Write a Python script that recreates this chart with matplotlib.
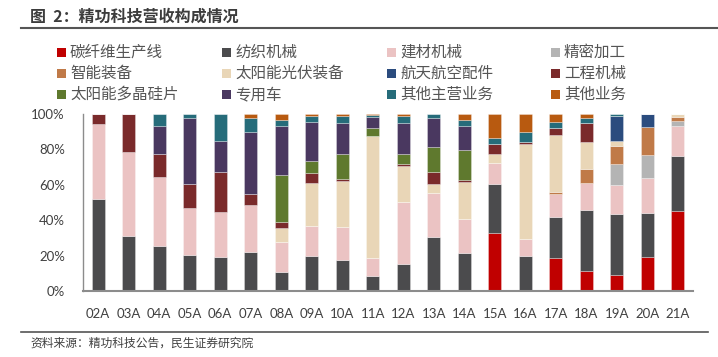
import matplotlib
matplotlib.use("Agg")
import matplotlib.pyplot as plt
import numpy as np
from matplotlib.patches import Rectangle
from matplotlib.lines import Line2D

plt.rcParams['font.family'] = ['Noto Sans CJK SC', 'DejaVu Sans']

years = ["02A", "03A", "04A", "05A", "06A", "07A", "08A", "09A", "10A", "11A",
         "12A", "13A", "14A", "15A", "16A", "17A", "18A", "19A", "20A", "21A"]

series_names = ["碳纤维生产线", "纺织机械", "建材机械", "精密加工",
                "智能装备", "太阳能光伏装备", "航天航空配件", "工程机械",
                "太阳能多晶硅片", "专用车", "其他主营业务", "其他业务"]

carbon_fiber = [0, 0, 0, 0, 0, 0, 0, 0, 0, 0, 0, 0, 0, 32.7, 0.8, 18.4, 11.2, 8.8, 19.2, 45.0]
textile      = [52.2, 31.0, 25.2, 20.3, 19.4, 22.0, 10.9, 19.7, 17.7, 8.2, 15.2, 30.5, 21.2, 27.5, 18.7, 23.6, 34.8, 34.7, 24.9, 31.4]
building     = [42.0, 47.6, 39.3, 26.8, 25.3, 26.8, 16.6, 17.2, 18.4, 10.2, 34.9, 24.6, 19.7, 12.2, 10.1, 12.7, 14.9, 16.3, 19.5, 17.0]
precision    = [0, 0, 0, 0, 0, 0, 0, 0, 0, 0, 0, 0, 0, 0, 0, 0, 0, 11.9, 13.2, 2.6]
smart_equip  = [0, 0, 0, 0, 0, 0, 0, 0, 0, 0, 0, 0, 0, 0, 0, 1.3, 8.1, 10.3, 15.6, 2.3]
solar_pv     = [0, 0, 0, 0, 0, 0, 8.3, 24.0, 25.9, 69.1, 20.6, 5.4, 20.7, 4.8, 53.2, 32.1, 15.0, 2.9, 0, 1.7]
aerospace    = [0, 0, 0, 0, 0, 0, 0, 0, 0, 0, 0, 0, 0, 0, 0, 0, 0, 14.0, 7.6, 0]
engineering  = [5.8, 21.4, 12.7, 13.4, 22.6, 6.1, 3.2, 5.9, 1.2, 0, 1.1, 6.8, 1.0, 6.0, 1.3, 4.1, 11.1, 0, 0, 0]
polysilicon  = [0, 0, 0, 0, 0, 0, 26.4, 6.6, 14.3, 4.7, 5.4, 13.8, 16.8, 0, 0, 0, 0, 0, 0, 0]
special_veh  = [0, 0, 16.2, 37.1, 17.6, 34.7, 28.0, 21.9, 17.2, 6.3, 17.5, 16.5, 14.0, 0, 0, 0, 0, 0, 0, 0]
other_main   = [0, 0, 6.6, 2.4, 15.1, 8.3, 3.4, 3.4, 4.3, 1.1, 4.0, 2.4, 3.2, 3.0, 5.9, 3.4, 2.8, 1.1, 0, 0]
other_biz    = [0, 0, 0, 0, 0, 2.1, 3.2, 1.3, 1.0, 0.4, 1.3, 0, 3.4, 13.8, 10.0, 4.4, 2.1, 0, 0, 0]

series_values = [carbon_fiber, textile, building, precision, smart_equip, solar_pv,
                 aerospace, engineering, polysilicon, special_veh, other_main, other_biz]

colors = ["#C00000", "#4B4B4D", "#EBC3C3", "#B4B4B4", "#C07A48", "#E9D6B7",
          "#2B4C7E", "#7A2A2B", "#5F792E", "#4A3860", "#266C7A", "#B85A10"]

fig = plt.figure(figsize=(7.18, 3.57), dpi=100)
ax = fig.add_axes([83/718, 1-291/357, (693-83)/718, (291-114)/357])

x = np.arange(len(years))
bottom = np.zeros(len(years))
for vals, col in zip(series_values, colors):
    v = np.array(vals) / 100.0
    ax.bar(x, v, width=0.43, bottom=bottom, color=col,
           edgecolor=(1, 1, 1, 0.35), linewidth=0.6)
    bottom += v

ax.set_xlim(-0.5, 19.5)
ax.set_ylim(0, 1.0)
ax.set_yticks(np.linspace(0, 1, 6))
ax.set_yticklabels([f"{int(t*100)}%" for t in np.linspace(0, 1, 6)])
ax.set_xticks(x)
ax.set_xticklabels(years)
ax.tick_params(axis='both', length=0, labelsize=9.5, colors="#404040")
ax.tick_params(axis='y', pad=13)
ax.tick_params(axis='x', pad=12)
for lab in ax.get_xticklabels() + ax.get_yticklabels():
    lab.set_family(['Lato', 'DejaVu Sans'])
for s in ["top", "right"]:
    ax.spines[s].set_visible(False)
ax.spines["left"].set_color("#8C8C8C")
ax.spines["bottom"].set_color("#8C8C8C")
ax.spines["left"].set_linewidth(1.0)
ax.spines["bottom"].set_linewidth(1.5)

# Title and rule
fig.text(30/718, 1-17/357, "图  2：精功科技营收构成情况", fontsize=11.5, fontweight="bold",
         color="#3C3C3C", va="center", ha="left")
fig.add_artist(Line2D([21/718, 1.0], [1-28/357, 1-28/357], color="#555555", linewidth=1.5))

# Footer
fig.add_artist(Line2D([21/718, 708/718], [1-331.5/357, 1-331.5/357], color="#555555", linewidth=1.2))
fig.text(30/718, 1-343/357, "资料来源：精功科技公告，民生证券研究院", fontsize=8.5,
         color="#404040", va="center", ha="left")

# Legend (4 columns x 3 rows)
col_x = [57, 222, 387, 551]
row_y = [52.5, 73.5, 94.5]
for i, (name, col) in enumerate(zip(series_names, colors)):
    r, c = divmod(i, 4)
    mx = col_x[c]
    my = row_y[r]
    fig.add_artist(Rectangle((mx/718, 1-(my+4.5)/357), 9/718, 9/357,
                             transform=fig.transFigure, facecolor=col, edgecolor="none"))
    fig.text((mx+13)/718, 1-my/357, name, fontsize=11.2, color="#555555",
             va="center", ha="left")

fig.savefig("out.png", dpi=100)
